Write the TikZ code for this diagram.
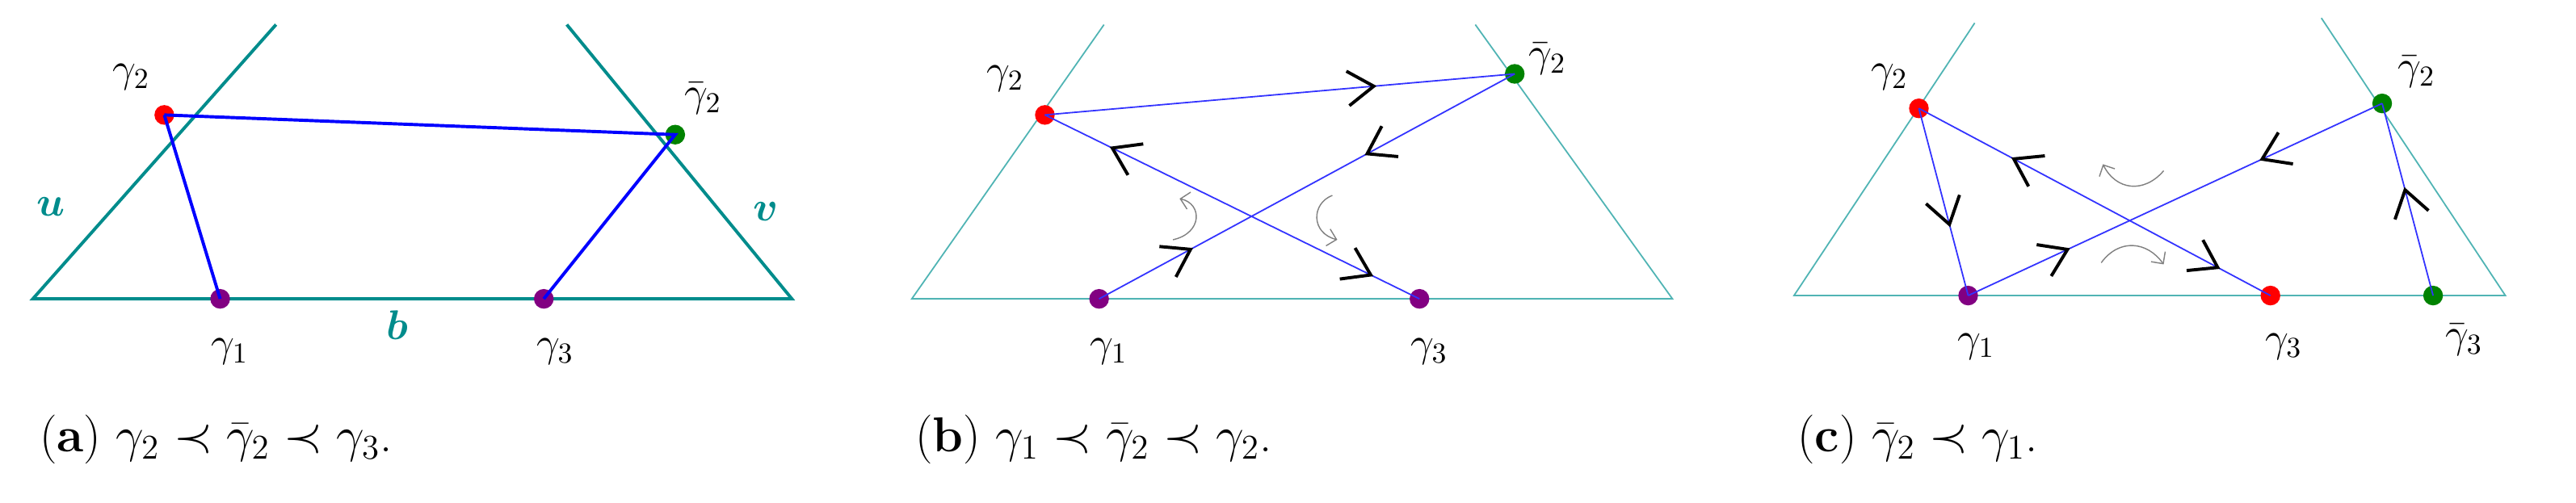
\documentclass[tikz,border=0pt]{standalone}
\usepackage{amsmath,amssymb,bm}
\usetikzlibrary{decorations.markings,arrows.meta}
\definecolor{tealc}{RGB}{0,140,140}
\definecolor{ltteal}{RGB}{80,180,180}
\definecolor{grn}{RGB}{0,130,0}
\definecolor{prp}{RGB}{130,0,130}
\begin{document}
\begin{tikzpicture}[x=0.02cm,y=-0.02cm,
  dot/.style={circle,inner sep=0pt,minimum size=0.24cm},
  lab/.style={font=\fontsize{14}{16}\selectfont},
  side/.style={ltteal,line width=0.5pt},
  sideA/.style={tealc,line width=1.1pt},
  edge/.style={blue!80!white,line width=0.5pt},
  edgeA/.style={blue,line width=1.1pt},
  fwd/.style={postaction={decorate,decoration={markings,mark=at position #1 with {\draw[black,line width=1.1pt] (-9pt,6pt) -- (0,0) -- (-9pt,-6pt);}}}},
  bwd/.style={postaction={decorate,decoration={markings,mark=at position #1 with {\draw[black,line width=1.1pt] (9pt,6pt) -- (0,0) -- (9pt,-6pt);}}}},
  turn/.style={gray,line width=0.4pt,-{Straight Barb[length=3pt]}},
  captxt/.style={anchor=base west,font=\fontsize{17}{20}\selectfont}]
\useasboundingbox (0,0) rectangle (1568,306);
% ---------- (a)
\coordinate (aL) at (20,182); \coordinate (aR) at (482,182);
\coordinate (aLT) at (168,15); \coordinate (aRT) at (345,15);
\draw[sideA] (aLT) -- (aL) -- (aR) -- (aRT);
\node[dot,fill=red] (a2) at (100,70) {};
\node[dot,fill=grn] (ab2) at (411,82) {};
\node[dot,fill=prp] (a1) at (134,182) {};
\node[dot,fill=prp] (a3) at (331,182) {};
\draw[edgeA] (a2.center) -- (ab2.center) -- (a3.center);
\draw[edgeA] (a2.center) -- (a1.center);
\node[lab] (la2) at (80,47) {$\gamma_2$};
\node[lab] (lab2) at (428,60) {$\bar\gamma_2$};
\node[lab] (la1) at (140,214) {$\gamma_1$};
\node[lab] (la3) at (338,214) {$\gamma_3$};
\node[lab,text=tealc] (lu) at (31,126) {$\bm{u}$};
\node[lab,text=tealc] (lv) at (466,129) {$\bm{v}$};
\node[lab,text=tealc] (lb) at (242,198) {$\bm{b}$};
\node[captxt] (ca) at (18,275) {(\textbf{a}) $\gamma_2\prec\bar\gamma_2\prec\gamma_3$.};
% ---------- (b)
\coordinate (bL) at (555,182); \coordinate (bR) at (1018,182);
\coordinate (bLT) at (672,15); \coordinate (bRT) at (898,15);
\draw[side] (bLT) -- (bL) -- (bR) -- (bRT);
\node[dot,fill=red] (b2) at (636,70) {};
\node[dot,fill=grn] (bb2) at (922,45) {};
\node[dot,fill=prp] (b1) at (669,182) {};
\node[dot,fill=prp] (b3) at (864,182) {};
\draw[edge,fwd=0.7] (b2.center) -- (bb2.center);
\draw[edge,fwd=0.22,bwd=0.645] (b1.center) -- (bb2.center);
\draw[edge,fwd=0.82,bwd=0.13] (b3.center) -- (b2.center);
\draw[turn] (714,146) .. controls (732,142) and (732,124) .. (718,121);
\draw[turn] (811,119) .. controls (798,124) and (798,142) .. (814,146);
\node[lab] (lb2) at (612,48) {$\gamma_2$};
\node[lab] (lbb2) at (942,36) {$\bar\gamma_2$};
\node[lab] (lb1) at (675,214) {$\gamma_1$};
\node[lab] (lb3) at (870,214) {$\gamma_3$};
\node[captxt] (cb) at (551,275) {(\textbf{b}) $\gamma_1\prec\bar\gamma_2\prec\gamma_2$.};
% ---------- (c)
\coordinate (cL) at (1092,180); \coordinate (cR) at (1525,180);
\coordinate (cLT) at (1202,14); \coordinate (cRT) at (1413,11);
\draw[side] (cLT) -- (cL) -- (cR) -- (cRT);
\node[dot,fill=red] (c2) at (1168,66) {};
\node[dot,fill=grn] (cb2) at (1450,63) {};
\node[dot,fill=prp] (c1) at (1198,180) {};
\node[dot,fill=red] (c3) at (1382,180) {};
\node[dot,fill=grn] (cb3) at (1481,180) {};
\draw[edge,fwd=0.62] (c2.center) -- (c1.center);
\draw[edge,fwd=0.24,bwd=0.71] (c1.center) -- (cb2.center);
\draw[edge,fwd=0.73,bwd=0.15] (c3.center) -- (c2.center);
\draw[edge,fwd=0.55] (cb3.center) -- (cb2.center);
\draw[turn] (1317,104) .. controls (1305,118) and (1288,116) .. (1280,100);
\draw[turn] (1279,160) .. controls (1290,145) and (1307,147) .. (1317,161);
\node[lab] (lc2) at (1150,47) {$\gamma_2$};
\node[lab] (lcb2) at (1471,44) {$\bar\gamma_2$};
\node[lab] (lc1) at (1203,211) {$\gamma_1$};
\node[lab] (lc3) at (1390,211) {$\gamma_3$};
\node[lab] (lcb3) at (1500,207) {$\bar\gamma_3$};
\node[captxt] (cc) at (1088,275) {(\textbf{c}) $\bar\gamma_2\prec\gamma_1$.};
\end{tikzpicture}
\end{document}
